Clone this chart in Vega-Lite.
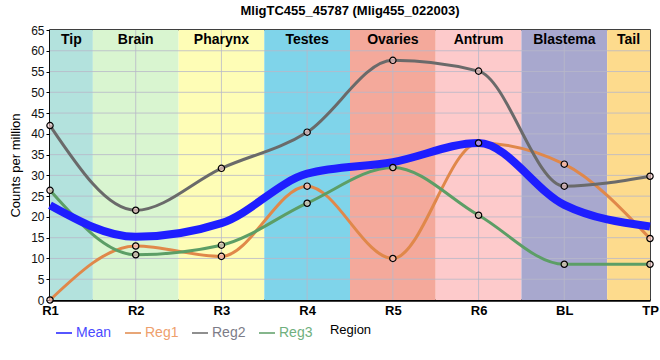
{
  "$schema": "https://vega.github.io/schema/vega-lite/v6.json",
  "width": 600,
  "height": 270,
  "autosize": {"type": "none"},
  "padding": {"left": 50, "top": 30, "right": 10, "bottom": 60},
  "title": {"text": "MligTC455_45787 (Mlig455_022003)", "fontSize": 13, "fontWeight": "bold", "font": "Liberation Sans", "color": "#000", "anchor": "middle", "offset": 6},
  "config": {
    "font": "Liberation Sans",
    "view": {"stroke": "#000", "strokeWidth": 1.5},
    "axisY": {"labelOverlap": false, "labelBound": false, "labelFlush": false, "labelFontSize": 12, "labelColor": "#111", "labelPadding": 2, "tickSize": 4, "tickColor": "#000", "grid": false, "domainColor": "#000", "domainWidth": 2.5, "titleFontWeight": "normal", "titleFontSize": 13, "titleColor": "#000", "titlePadding": 8, "tickCount": 13}
  },
  "datasets": {
    "bands": [
      {"band": "Tip", "start": 0, "end": 0.5, "center": 0.25},
      {"band": "Brain", "start": 0.5, "end": 1.5, "center": 1},
      {"band": "Pharynx", "start": 1.5, "end": 2.5, "center": 2},
      {"band": "Testes", "start": 2.5, "end": 3.5, "center": 3},
      {"band": "Ovaries", "start": 3.5, "end": 4.5, "center": 4},
      {"band": "Antrum", "start": 4.5, "end": 5.5, "center": 5},
      {"band": "Blastema", "start": 5.5, "end": 6.5, "center": 6},
      {"band": "Tail", "start": 6.5, "end": 7, "center": 6.75}
    ],
    "hgrid": [{"v": 5}, {"v": 10}, {"v": 15}, {"v": 20}, {"v": 25}, {"v": 30}, {"v": 35}, {"v": 40}, {"v": 45}, {"v": 50}, {"v": 55}, {"v": 60}],
    "vgrid": [{"p": 1}, {"p": 2}, {"p": 3}, {"p": 4}, {"p": 5}, {"p": 6}],
    "series": [
      {"series": "Reg1", "pos": 0, "region": "R1", "value": 0},
      {"series": "Reg1", "pos": 1, "region": "R2", "value": 13.0},
      {"series": "Reg1", "pos": 2, "region": "R3", "value": 10.5},
      {"series": "Reg1", "pos": 3, "region": "R4", "value": 27.4},
      {"series": "Reg1", "pos": 4, "region": "R5", "value": 10.0},
      {"series": "Reg1", "pos": 5, "region": "R6", "value": 37.8},
      {"series": "Reg1", "pos": 6, "region": "BL", "value": 32.7},
      {"series": "Reg1", "pos": 7, "region": "TP", "value": 14.8},
      {"series": "Reg2", "pos": 0, "region": "R1", "value": 42.0},
      {"series": "Reg2", "pos": 1, "region": "R2", "value": 21.6},
      {"series": "Reg2", "pos": 2, "region": "R3", "value": 31.7},
      {"series": "Reg2", "pos": 3, "region": "R4", "value": 40.4},
      {"series": "Reg2", "pos": 4, "region": "R5", "value": 57.7},
      {"series": "Reg2", "pos": 5, "region": "R6", "value": 55.1},
      {"series": "Reg2", "pos": 6, "region": "BL", "value": 27.4},
      {"series": "Reg2", "pos": 7, "region": "TP", "value": 29.8},
      {"series": "Reg3", "pos": 0, "region": "R1", "value": 26.4},
      {"series": "Reg3", "pos": 1, "region": "R2", "value": 10.9},
      {"series": "Reg3", "pos": 2, "region": "R3", "value": 13.2},
      {"series": "Reg3", "pos": 3, "region": "R4", "value": 23.3},
      {"series": "Reg3", "pos": 4, "region": "R5", "value": 31.9},
      {"series": "Reg3", "pos": 5, "region": "R6", "value": 20.4},
      {"series": "Reg3", "pos": 6, "region": "BL", "value": 8.6},
      {"series": "Reg3", "pos": 7, "region": "TP", "value": 8.6},
      {"series": "Mean", "pos": 0, "region": "R1", "value": 22.8},
      {"series": "Mean", "pos": 1, "region": "R2", "value": 15.2},
      {"series": "Mean", "pos": 2, "region": "R3", "value": 18.5},
      {"series": "Mean", "pos": 3, "region": "R4", "value": 30.4},
      {"series": "Mean", "pos": 4, "region": "R5", "value": 33.2},
      {"series": "Mean", "pos": 5, "region": "R6", "value": 37.8},
      {"series": "Mean", "pos": 6, "region": "BL", "value": 22.9},
      {"series": "Mean", "pos": 7, "region": "TP", "value": 17.7}
    ]
  },
  "resolve": {"scale": {"color": "independent"}},
  "layer": [
    {
      "data": {"name": "bands"},
      "mark": {"type": "rect"},
      "encoding": {
        "x": {"field": "start", "type": "quantitative", "scale": {"domain": [0, 7], "nice": false, "zero": false},
          "axis": {"values": [0, 1, 2, 3, 4, 5, 6, 7], "labelExpr": "['R1','R2','R3','R4','R5','R6','BL','TP'][datum.value]", "labelFontWeight": "bold", "labelFontSize": 13, "labelColor": "#000", "labelPadding": 4, "labelOverlap": false, "labelBound": false, "labelFlush": false, "ticks": false, "grid": false, "domainColor": "#000", "domainWidth": 2.5, "title": "Region", "titleFontWeight": "normal", "titleFontSize": 13, "titleColor": "#000", "titlePadding": 6}},
        "x2": {"field": "end"},
        "y": {"datum": 0, "type": "quantitative", "scale": {"domain": [0, 65], "nice": false, "zero": true}, "title": "Counts per million"},
        "y2": {"datum": 65},
        "color": {"field": "band", "type": "nominal", "legend": null,
          "scale": {"domain": ["Tip", "Brain", "Pharynx", "Testes", "Ovaries", "Antrum", "Blastema", "Tail"],
            "range": ["#b3e2dd", "#d9f5d0", "#fefdb6", "#7fd4ea", "#f4a99b", "#fdcacb", "#a8a8ce", "#fddb8d"]}}
      }
    },
    {
      "data": {"name": "hgrid"},
      "mark": {"type": "rule", "stroke": "#b8b8c8", "strokeWidth": 1, "opacity": 0.8},
      "encoding": {"y": {"field": "v", "type": "quantitative", "title": "Counts per million"}}
    },
    {
      "data": {"name": "vgrid"},
      "mark": {"type": "rule", "stroke": "#b8b8c8", "strokeWidth": 1, "opacity": 0.8},
      "encoding": {"x": {"field": "p", "type": "quantitative", "title": "Region"}}
    },
    {
      "data": {"name": "bands"},
      "mark": {"type": "text", "fontWeight": "bold", "fontSize": 14, "color": "#000", "baseline": "middle"},
      "encoding": {
        "x": {"field": "center", "type": "quantitative", "title": "Region"},
        "y": {"datum": 62.5, "type": "quantitative", "title": "Counts per million"},
        "text": {"field": "band"}
      }
    },
    {
      "mark": {"type": "rule", "stroke": "#000", "strokeWidth": 2.5, "strokeDash": [6, 4]},
      "encoding": {
        "x": {"datum": 6.5, "type": "quantitative", "title": "Region"},
        "y": {"datum": -1.5, "type": "quantitative", "title": "Counts per million"},
        "y2": {"datum": 65}
      }
    },
    {
      "data": {"name": "series"},
      "mark": {"type": "line", "interpolate": "monotone"},
      "encoding": {
        "x": {"field": "pos", "type": "quantitative", "title": "Region"},
        "y": {"field": "value", "type": "quantitative", "title": "Counts per million"},
        "color": {"field": "series", "type": "nominal",
          "scale": {"domain": ["Mean", "Reg1", "Reg2", "Reg3"], "range": ["#1e1eff", "#e0884a", "#6a6a6a", "#5c9e66"]},
          "legend": {"orient": "none", "legendX": 5, "legendY": 294, "direction": "horizontal", "title": null, "symbolType": "stroke", "symbolSize": 256, "labelFontSize": 14, "labelOffset": 3, "columnPadding": 10,
            "labelColor": {"expr": "datum.value == 'Mean' ? '#4a4aff' : datum.value == 'Reg1' ? '#eea06c' : datum.value == 'Reg2' ? '#7c7c88' : '#70b07e'"}}},
        "strokeWidth": {"field": "series", "type": "nominal", "scale": {"type": "ordinal", "domain": ["Mean", "Reg1", "Reg2", "Reg3"], "range": [8, 3, 3, 3]}},
        "order": {"field": "pos", "type": "quantitative"}
      }
    },
    {
      "data": {"name": "series"},
      "transform": [{"filter": "datum.series != 'Mean'"}],
      "mark": {"type": "point", "shape": "circle", "size": 40, "stroke": "#000", "strokeWidth": 1.2, "fill": "#ffd0d0", "fillOpacity": 0.6, "filled": false},
      "encoding": {
        "x": {"field": "pos", "type": "quantitative", "title": "Region"},
        "y": {"field": "value", "type": "quantitative", "title": "Counts per million"}
      }
    }
  ]
}
